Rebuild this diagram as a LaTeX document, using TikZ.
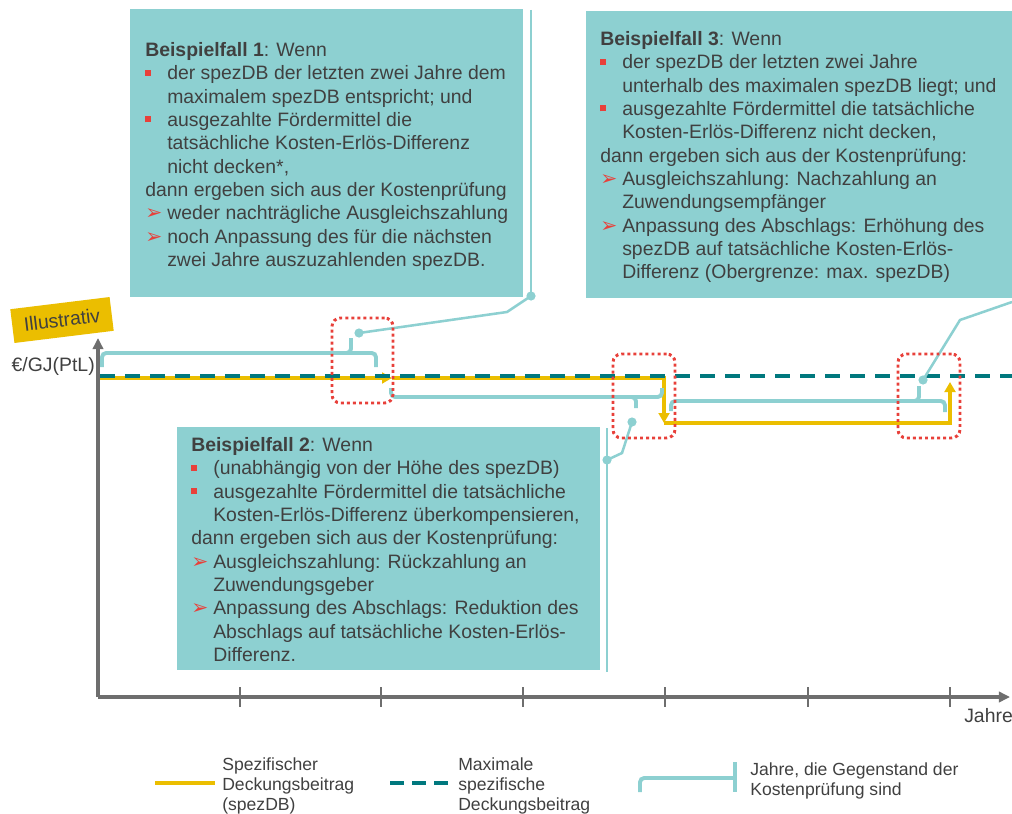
\documentclass[tikz,border=0pt]{standalone}
\usepackage{fontspec}
\setmainfont{Liberation Sans}
\newfontfamily\symfont{DejaVu Sans}
\usetikzlibrary{arrows.meta,positioning}

\definecolor{boxteal}{HTML}{8DD0D1}
\definecolor{darkteal}{HTML}{00787E}
\definecolor{specyellow}{HTML}{EBBE00}
\definecolor{markred}{HTML}{E8403A}
\definecolor{axisgray}{HTML}{6E6E6E}
\definecolor{txtgray}{HTML}{404040}

\newcommand{\sqb}{\makebox[0.55cm][l]{\textcolor{markred}{\rule[0.1cm]{0.15cm}{0.15cm}}}}
\newcommand{\arb}{\makebox[0.55cm][l]{\textcolor{markred}{\symfont\fontsize{14.5}{12}\selectfont ➢}}}
\newcommand{\ind}{\hspace*{0.55cm}}

\begin{document}
\begin{tikzpicture}[x=0.025cm, y=-0.025cm,
    casebox/.style={fill=boxteal,inner sep=0pt,anchor=north west},
    casetext/.style={anchor=north west,inner sep=0pt,align=left,text=txtgray,
                     font=\fontsize{13.8}{16.6}\selectfont},
    legtext/.style={anchor=west,inner sep=0pt,align=left,text=txtgray,
                    font=\fontsize{12.5}{14.2}\selectfont},
    checkbox/.style={draw=markred,line width=2.1pt,dash pattern=on 2.1pt off 2.2pt,
                     rounded corners=6pt,inner sep=0pt},
    bracel/.style={draw=boxteal,line width=2.8pt,rounded corners=3pt},
    callout/.style={draw=boxteal,line width=1.8pt},
    dot/.style={circle,fill=boxteal,inner sep=0pt,minimum size=0.23cm},
    specline/.style={draw=specyellow,line width=2.8pt},
    maxline/.style={draw=darkteal,line width=2.8pt,dash pattern=on 0.375cm off 0.25cm},
    axis/.style={draw=axisgray,line width=2.4pt,-{Triangle[length=0.28cm,width=0.26cm]}},
    tick/.style={draw=axisgray,line width=1.6pt}]

  \useasboundingbox (0,0) rectangle (1012,814);

  % case boxes
  \node[casebox,minimum width=9.825cm,minimum height=7.2cm] (fall1) at (130,9) {};
  \node[casebox,minimum width=10.65cm,minimum height=7.175cm] (fall3) at (586,11) {};
  \node[casebox,minimum width=10.575cm,minimum height=6.075cm] (fall2) at (177,427) {};

  \node[casetext] (text1) at (145,42) {%
    \textbf{Beispielfall 1}: Wenn\\
    \sqb der spezDB der letzten zwei Jahre dem\\
    \ind maximalem spezDB entspricht; und\\
    \sqb ausgezahlte Fördermittel die\\
    \ind tatsächliche Kosten-Erlös-Differenz\\
    \ind nicht decken*,\\
    dann ergeben sich aus der Kostenprüfung\\
    \arb weder nachträgliche Ausgleichszahlung\\
    \arb noch Anpassung des für die nächsten\\
    \ind zwei Jahre auszuzahlenden spezDB.};

  \node[casetext] (text3) at (600,31) {%
    \textbf{Beispielfall 3}: Wenn\\
    \sqb der spezDB der letzten zwei Jahre\\
    \ind unterhalb des maximalen spezDB liegt; und\\
    \sqb ausgezahlte Fördermittel die tatsächliche\\
    \ind Kosten-Erlös-Differenz nicht decken,\\
    dann ergeben sich aus der Kostenprüfung:\\
    \arb Ausgleichszahlung: Nachzahlung an\\
    \ind Zuwendungsempfänger\\
    \arb Anpassung des Abschlags: Erhöhung des\\
    \ind spezDB auf tatsächliche Kosten-Erlös-\\
    \ind Differenz (Obergrenze: max. spezDB)};

  \node[casetext] (text2) at (191,437) {%
    \textbf{Beispielfall 2}: Wenn\\
    \sqb (unabhängig von der Höhe des spezDB)\\
    \sqb ausgezahlte Fördermittel die tatsächliche\\
    \ind Kosten-Erlös-Differenz überkompensieren,\\
    dann ergeben sich aus der Kostenprüfung:\\
    \arb Ausgleichszahlung: Rückzahlung an\\
    \ind Zuwendungsgeber\\
    \arb Anpassung des Abschlags: Reduktion des\\
    \ind Abschlags auf tatsächliche Kosten-Erlös-\\
    \ind Differenz.};

  % axes
  \coordinate (o) at (98,697);
  \coordinate (ytop) at (98,338);
  \coordinate (xend) at (1010,697);
  \draw[axis] (o) -- (ytop);
  \draw[axis] (o) -- (xend);
  \foreach \tx in {240,381,523,665,808,950}
    \draw[tick] (\tx,687) -- (\tx,707);
  \node[anchor=east,inner sep=0pt,text=txtgray,font=\fontsize{13.8}{16.6}\selectfont]
    (unit) at (95,366) {€/GJ(PtL)};
  \node[anchor=west,inner sep=0pt,text=txtgray,font=\fontsize{13.8}{16.6}\selectfont]
    (jahre) at (964,716) {Jahre};
  \node[fill=specyellow,rotate=7,minimum width=2.5cm,minimum height=0.85cm,inner sep=0pt,
        text=txtgray,font=\fontsize{13.8}{16.6}\selectfont] (illu) at (62,320) {Illustrativ};

  % spezDB and max. spezDB
  \coordinate (s0) at (100,378);
  \coordinate (s1) at (392,378);
  \coordinate (s2) at (664,378);
  \coordinate (s3) at (664,423);
  \coordinate (s4) at (950,423);
  \coordinate (s5) at (950,382);
  \draw[specline,-{Triangle[length=0.25cm,width=0.27cm]}] (s0) -- (s1);
  \draw[specline,-{Triangle[length=0.25cm,width=0.27cm]}] (s1) -- (s2) -- (s3);
  \draw[specline,-{Triangle[length=0.25cm,width=0.27cm]}] (s3) -- (s4) -- (s5);
  \coordinate (m0) at (100,376);
  \coordinate (m1) at (1012,376);
  \draw[maxline] (m0) -- (m1);

  % braces
  \draw[bracel] (102,367) -- (102,353) -- (376,353) -- (376,367);
  \draw[bracel] (340,353) -- (351,353) -- (351,338);
  \draw[bracel] (391,388) -- (391,397) -- (662,397) -- (662,388);
  \draw[bracel] (625,397) -- (636,397) -- (636,408);
  \draw[bracel] (671,411) -- (671,401) -- (945,401) -- (945,412);
  \draw[bracel] (908,401) -- (919,401) -- (919,386);

  % callouts
  \node[dot] (d1a) at (531,296) {};
  \node[dot] (d1b) at (359,333) {};
  \draw[callout] (531,10) -- (d1a.center);
  \draw[callout] (d1a.center) -- (507,312) -- (d1b.center);
  \node[dot] (d2a) at (607,460) {};
  \node[dot] (d2b) at (632,422) {};
  \draw[callout] (607,428) -- (607,672);
  \draw[callout] (d2a.center) -- (622,453) -- (d2b.center);
  \node[dot] (d3a) at (923,380) {};
  \coordinate (d3b) at (1012,302);
  \draw[callout] (d3a.center) -- (960,320) -- (d3b);

  % check windows
  \node[checkbox,minimum width=1.525cm,minimum height=2.125cm] (chk1) at (362.5,360.5) {};
  \node[checkbox,minimum width=1.55cm,minimum height=2.1cm] (chk2) at (644,396) {};
  \node[checkbox,minimum width=1.55cm,minimum height=2.1cm] (chk3) at (929,396) {};

  % legend
  \coordinate (lg1a) at (155,783);
  \coordinate (lg1b) at (215,783);
  \draw[specline] (lg1a) -- (lg1b);
  \node[legtext,right=0.175cm of lg1b,yshift=-0.08cm] (lg1t) {Spezifischer\\Deckungsbeitrag\\(spezDB)};
  \coordinate (lg2a) at (390,783);
  \coordinate (lg2b) at (452,783);
  \draw[maxline,dash pattern=on 0.35cm off 0.2cm] (lg2a) -- (lg2b);
  \node[legtext,right=0.15cm of lg2b,yshift=-0.08cm] (lg2t) {Maximale\\spezifische\\Deckungsbeitrag};
  \coordinate (lg3) at (735,778);
  \draw[bracel] (640,792) -- (640,778) -- (735,778);
  \draw[bracel] (735,762) -- (735,792);
  \node[legtext,right=0.375cm of lg3,yshift=-0.08cm] (lg3t) {Jahre, die Gegenstand der\\Kostenprüfung sind};
\end{tikzpicture}
\end{document}
